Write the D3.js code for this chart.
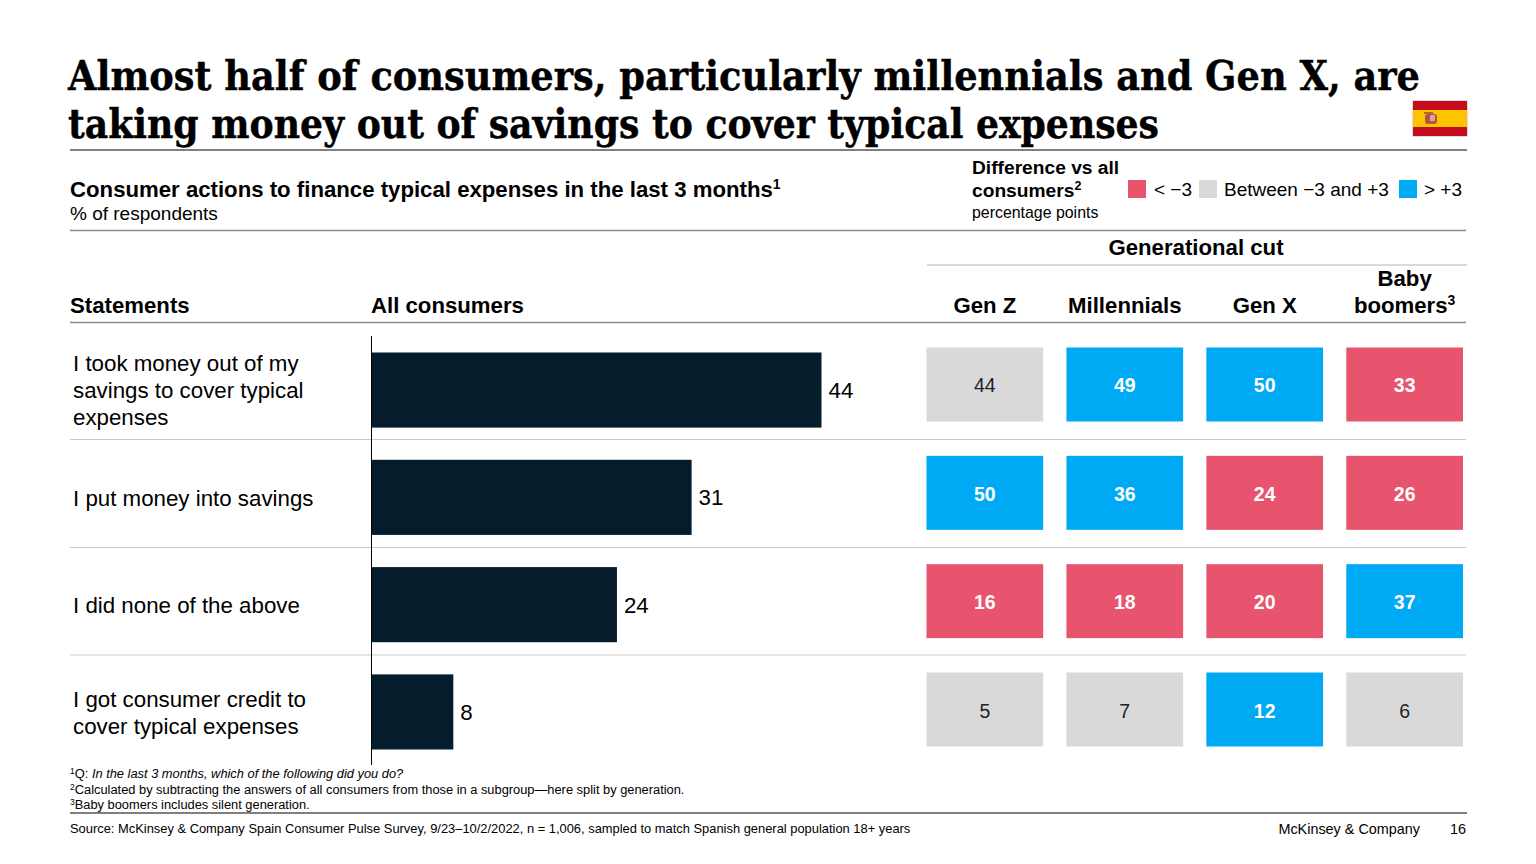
<!DOCTYPE html>
<html>
<head>
<meta charset="utf-8">
<script src="https://cdn.jsdelivr.net/npm/d3@7"></script>
<style>
  html, body { margin: 0; padding: 0; background: #fff; }
  svg { display: block; }
  text { font-family: "Liberation Sans", Arial, sans-serif; fill: #000; }
</style>
</head>
<body>
<div id="chart"></div>
<script>
// values
var statements = ['took', 'put', 'none', 'credit'];
var statementLines = [
  ['I took money out of my', 'savings to cover typical', 'expenses'],
  ['I put money into savings'],
  ['I did none of the above'],
  ['I got consumer credit to', 'cover typical expenses']
];
var allConsumers = [44, 31.3, 24, 8];
var generations = ['Gen Z', 'Millennials', 'Gen X', 'Baby boomers'];
var genZ = [44, 50, 16, 5];
var millennials = [49, 36, 18, 7];
var genX = [50, 24, 20, 12];
var boomers = [33, 26, 37, 6];
var genValues = [genZ, millennials, genX, boomers];

var navy = '#051c2c', red = '#e8536e', grey = '#d9d9d9', blue = '#00a9f4';

var svg = d3.select('#chart').append('svg').attr('width', 1536).attr('height', 864);

var x = d3.scaleLinear().domain([0, 44]).range([371.5, 821.5]);
var barY = d3.scaleBand().domain(statements).range([352.5, 749.5]).paddingInner(0.3);
var cellY = d3.scaleBand().domain(statements).range([347.5, 746.5]).paddingInner(0.317);
var colX = d3.scaleBand().domain(generations).range([926.5, 1463]).paddingInner(0.166);
var diffColor = d3.scaleThreshold().domain([-3, 4]).range([red, grey, blue]);
var shown = function(d) { return Math.round(d); };

var addText = function(str, px, py, size, opts) {
  opts = opts || {};
  return svg.append('text').attr('x', px).attr('y', py)
    .attr('font-size', size)
    .attr('font-weight', opts.bold ? 700 : 400)
    .attr('text-anchor', opts.anchor || 'start')
    .style('fill', opts.fill || '#000')
    .text(str);
};
var addSup = function(t, str, size) {
  t.append('tspan').attr('dy', -size * 0.55).attr('font-size', size).text(str);
};
var rule = function(x1, x2, y, color, w) {
  svg.append('line').attr('x1', x1).attr('x2', x2).attr('y1', y).attr('y2', y)
    .attr('stroke', color).attr('stroke-width', w);
};

// title
var titleLines = ['Almost half of consumers, particularly millennials and Gen X, are',
  'taking money out of savings to cover typical expenses'];
var titleLens = [1352, 1091];
titleLines.forEach(function(s, i) {
  addText(s, 68, 90 + i * 48, 41, {bold: true})
    .style('font-family', '"DejaVu Serif Condensed", "DejaVu Serif", serif')
    .style('stroke', '#000').style('stroke-width', 0.4)
    .attr('textLength', titleLens[i]).attr('lengthAdjust', 'spacingAndGlyphs');
});

// flag
var flag = svg.append('g');
flag.append('rect').attr('x', 1412.5).attr('y', 100.5).attr('width', 55).attr('height', 36)
  .attr('fill', '#c60b1e').attr('stroke', '#ddd').attr('stroke-width', 1);
flag.append('rect').attr('x', 1413).attr('y', 110).attr('width', 54).attr('height', 17).attr('fill', '#ffc400');
flag.append('rect').attr('x', 1425).attr('y', 114).attr('width', 12).attr('height', 10).attr('rx', 3).attr('fill', '#b5533c');
flag.append('rect').attr('x', 1430).attr('y', 115).attr('width', 5).attr('height', 6).attr('fill', '#d9a0b0');
flag.append('rect').attr('x', 1424).attr('y', 112).attr('width', 9).attr('height', 2).attr('fill', '#b06a2c');

rule(70, 1467, 150, '#000', 1);

// subtitle and legend
addSup(addText('Consumer actions to finance typical expenses in the last 3 months', 70, 197, 22.2, {bold: true}), '1', 14);
addText('% of respondents', 70, 220, 19);
addText('Difference vs all', 972, 174, 19.2, {bold: true});
addSup(addText('consumers', 972, 197, 19.2, {bold: true}), '2', 12.5);
addText('percentage points', 972, 218, 15.9);

var legendX = [1128, 1199, 1399];
var legendColors = [red, grey, blue];
var legendLabels = ['< \u22123', 'Between \u22123 and +3', '> +3'];
var legendTextX = [1154, 1224, 1424];
legendX.forEach(function(lx, i) {
  svg.append('rect').attr('x', lx).attr('y', 180).attr('width', 18).attr('height', 18).attr('fill', legendColors[i]);
  addText(legendLabels[i], legendTextX[i], 196, 19);
});

rule(70, 1466, 230.5, '#8c8c8c', 1.5);

// headers
addText('Generational cut', 1196, 255, 22.2, {bold: true, anchor: 'middle'});
rule(927, 1467, 265, '#b5b5b5', 1);
addText('Statements', 70, 313, 22.2, {bold: true});
addText('All consumers', 371, 313, 22.2, {bold: true});
generations.forEach(function(g) {
  var cx = colX(g) + colX.bandwidth() / 2;
  if (g === 'Baby boomers') {
    addText('Baby', cx, 286, 22.2, {bold: true, anchor: 'middle'});
    addSup(addText('boomers', cx, 313, 22.2, {bold: true, anchor: 'middle'}), '3', 14);
  } else {
    addText(g, cx, 313, 22.2, {bold: true, anchor: 'middle'});
  }
});
rule(70, 1466, 322.5, '#8c8c8c', 1.5);

// row separators
var sepY = [439.5, 547.5, 655];
sepY.forEach(function(y) { rule(70, 1466, y, '#c8c8c8', 1); });

// statement labels
statements.forEach(function(s, i) {
  var lines = statementLines[i];
  var mid = barY(s) + barY.bandwidth() / 2 + 8.5;
  if (i === 0) mid = 398;
  lines.forEach(function(l, j) {
    addText(l, 73, mid + (j - (lines.length - 1) / 2) * 26.8, 22.3);
  });
});

// bars
svg.selectAll('.bar').data(allConsumers).enter().append('rect')
  .attr('class', 'bar')
  .attr('x', x(0))
  .attr('y', function(d, i) { return barY(statements[i]); })
  .attr('width', function(d) { return x(d) - x(0); })
  .attr('height', barY.bandwidth())
  .attr('fill', navy);

svg.selectAll('.barLabel').data(allConsumers).enter().append('text')
  .attr('class', 'barLabel')
  .attr('x', function(d) { return x(d) + 7; })
  .attr('y', function(d, i) { return barY(statements[i]) + barY.bandwidth() / 2 + 8; })
  .attr('font-size', 22.3)
  .text(function(d) { return shown(d); });

svg.append('line').attr('x1', x(0)).attr('x2', x(0)).attr('y1', 336).attr('y2', 765)
  .attr('stroke', '#000').attr('stroke-width', 1);

// heatmap cells
var cellColor = function(d, i) { return diffColor(d - shown(allConsumers[i])); };
generations.forEach(function(g, c) {
  var col = svg.append('g');
  var vals = genValues[c];
  col.selectAll('rect').data(vals).enter().append('rect')
    .attr('x', colX(g))
    .attr('y', function(d, i) { return cellY(statements[i]); })
    .attr('width', colX.bandwidth())
    .attr('height', cellY.bandwidth())
    .attr('fill', cellColor);
  col.selectAll('text').data(vals).enter().append('text')
    .attr('x', colX(g) + colX.bandwidth() / 2)
    .attr('y', function(d, i) { return cellY(statements[i]) + cellY.bandwidth() / 2 + 8; })
    .attr('text-anchor', 'middle')
    .attr('font-size', 19.5)
    .attr('font-weight', function(d, i) { return cellColor(d, i) === grey ? 400 : 700; })
    .style('fill', function(d, i) { return cellColor(d, i) === grey ? '#222' : '#fff'; })
    .text(function(d) { return d; });
});

// footnotes
var fn1 = addText('', 70, 778, 12.85);
fn1.append('tspan').attr('font-size', 8.5).attr('dy', -4).text('1');
fn1.append('tspan').attr('dy', 4).text('Q: ');
fn1.append('tspan').attr('font-style', 'italic').text('In the last 3 months, which of the following did you do?');
var fn2 = addText('', 70, 794, 12.85);
fn2.append('tspan').attr('font-size', 8.5).attr('dy', -4).text('2');
fn2.append('tspan').attr('dy', 4).text('Calculated by subtracting the answers of all consumers from those in a subgroup\u2014here split by generation.');
var fn3 = addText('', 70, 809, 12.85);
fn3.append('tspan').attr('font-size', 8.5).attr('dy', -4).text('3');
fn3.append('tspan').attr('dy', 4).text('Baby boomers includes silent generation.');

rule(70, 1467, 813, '#000', 1);
addText('Source: McKinsey & Company Spain Consumer Pulse Survey, 9/23\u201310/2/2022, n = 1,006, sampled to match Spanish general population 18+ years', 70, 833, 12.9);
addText('McKinsey & Company', 1420, 834, 14.4, {anchor: 'end'});
addText('16', 1466, 834, 14.4, {anchor: 'end'});
</script>
</body>
</html>
